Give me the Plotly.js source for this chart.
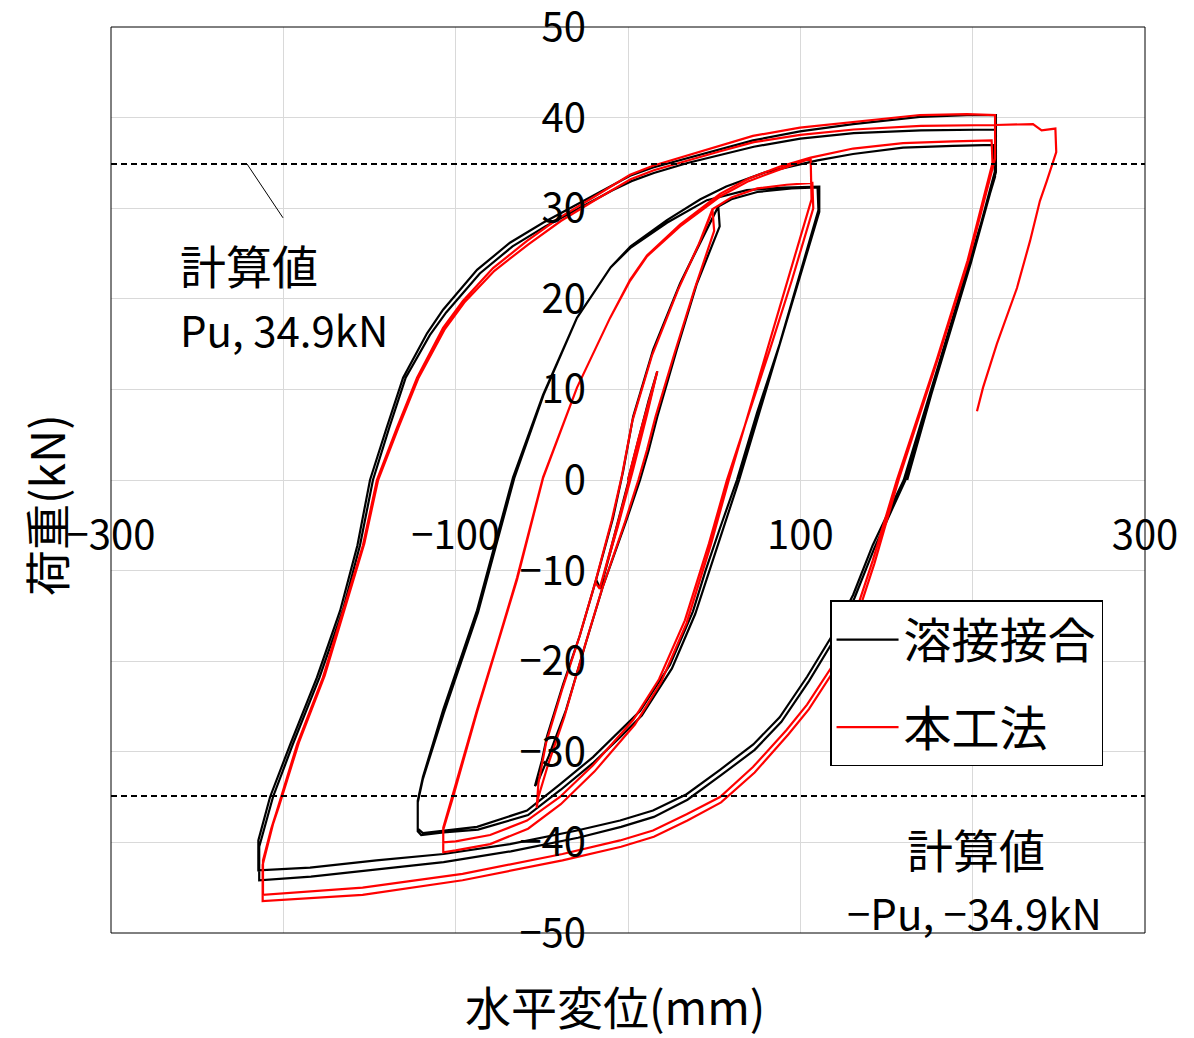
<!DOCTYPE html>
<html>
<head>
<meta charset="utf-8">
<script src="https://cdn.plot.ly/plotly-3.0.1.min.js"></script>
<style>html,body{margin:0;padding:0;background:#fff;}</style>
</head>
<body>
<div id="chart" style="width:1194px;height:1038px;"></div>
<script>
// ---------- tick labels ----------
const xTickVals = [-300, -100, 100, 300];
const yTickVals = [50, 40, 30, 20, 10, 0, -10, -20, -30, -40, -50];
const seriesNames = ['溶接接合', '本工法'];
const puValue = 34.9;

// ---------- 溶接接合 (black) ----------
const bSmallX = [0, 6, 12, 17, 11, 3, -6, -16, -10, -2, 6, 17, 10, 2, -7, -16];
const bSmallY = [0, 4.5, 8.8, 12, 7.5, 1.5, -5, -12, -7.5, -1.8, 4, 12, 7, 1, -5.5, -12];
const bUp50X = [-54, -50, -47, -37.7, -28, -18.5, -8.7, -2.8, 3, 14.6, 30.2, 42, 49.5, 52.4];
const bUp50Y = [-33.8, -31, -28.3, -22.6, -17.2, -11, -4.2, 1, 7, 14.4, 21.7, 26.3, 29.1, 30.2];
const bDn50X = [52.4, 53.2, 40, 28.3, 17, 12, 7, -1, -14.3, -24.5, -36, -46, -52.5, -54];
const bDn50Y = [30.2, 28, 21.7, 14.4, 7, 3.3, 0, -4.5, -11.6, -18, -25.4, -30.5, -33.4, -33.8];
const bUp100aX = [52.4, 60, 75, 95, 110, 110.5];
const bUp100aY = [30.2, 31, 31.8, 32.2, 32.3, 29.8];
const bDn100aX = [110.5, 100, 88, 75, 63.2, 53.4, 45, 37.7, 24.4, 7, -4.6, -20.3, -39.5, -58.6, -87.6, -107.3, -119, -122];
const bDn100aY = [29.8, 23, 15, 7.5, 0, -5.3, -10, -14.5, -20.4, -25.5, -27.7, -30.6, -33.6, -36.5, -38.3, -38.7, -39, -38.5];
const bUp100bX = [-122, -122, -119, -107.3, -87.6, -66.7, -49.3, -29.6, -10.4, 1.2, 22.6, 45.8, 69, 90, 111, 111];
const bUp100bY = [-38.5, -35.4, -32.8, -25.4, -14.4, 0.3, 9.4, 17.9, 23.4, 25.6, 28.4, 30.9, 32, 32.3, 32.4, 29.6];
const bDn100bX = [111, 64.5, 55, 39, 25.5, 8, -4, -20, -39, -58, -87, -107, -120, -122];
const bDn100bY = [29.6, 0, -5.5, -14.8, -20.8, -26, -28.3, -31.2, -34.2, -37, -38.6, -38.9, -39.2, -38.8];
const bUp200aX = [-122, -122, -119, -107, -87, -66, -49, -29.6, -10, 1.5, 22.6, 42, 57, 80, 110, 130.6, 159.6, 188.6, 212, 213];
const bUp200aY = [-38.8, -35.6, -33, -25.8, -14.6, 0.2, 9.4, 17.9, 23.5, 25.8, 28.7, 31, 32.4, 34, 35.3, 36, 36.7, 36.9, 37, 33.5];
const bDn200aX = [213, 198.5, 181, 160, 142, 130.6, 119, 104, 88, 72.7, 53.4, 34, 14.5, -4.6, -29.6, -68.5, -107, -146, -184.5, -214.5];
const bDn200aY = [33.5, 24.2, 13.2, 0, -7.2, -12.7, -17, -21.7, -26.2, -29.2, -32, -34.7, -36.5, -37.6, -38.7, -40.2, -41.3, -42, -42.8, -43.1];
const bUp200bX = [-214.5, -214.5, -207.7, -196, -180.5, -167, -157, -149.7, -140, -130.5, -116.6, -107.3, -87.6, -68.5, -49.3, -29.6, -10, 1.2, 14.5, 34.2, 53.4, 72.5, 99.8, 130.6, 169.4, 196.7, 213.5, 213.5];
const bUp200bY = [-43.1, -39.8, -35, -29.2, -21.8, -14.4, -7.2, 0, 5.8, 11.3, 16.2, 18.8, 23.2, 26.2, 28.4, 30.4, 32.4, 33.6, 34.5, 35.5, 36.5, 37.5, 38.5, 39.3, 40.1, 40.3, 40.3, 34];
const bDn200bX = [213.5, 199, 181.5, 161, 143, 131.5, 120, 105, 89, 73.5, 54, 34.5, 15, -4, -29, -68, -107, -146, -184, -214];
const bDn200bY = [34, 24, 13, 0, -7.5, -13, -17.5, -22.2, -26.7, -29.8, -32.6, -35.3, -37.2, -38.3, -39.5, -41, -42.2, -43, -43.8, -44.2];
const bUp200cX = [-214, -214, -206, -194.5, -179, -165.5, -155.5, -148, -138.5, -129, -115, -105.5, -86, -67, -48, -28.5, -9, 2, 15, 34.5, 54, 73, 100, 131, 170, 213, 213.5];
const bUp200cY = [-44.2, -40.5, -35, -29.2, -21.8, -14.4, -7.2, 0, 5.8, 11.3, 16, 18.5, 22.8, 25.8, 28, 30, 32, 33, 33.9, 35, 35.9, 36.8, 37.7, 38.3, 38.6, 38.7, 34.5];
const bEndX = [213.5, 199.5, 182, 162];
const bEndY = [34.5, 24.5, 13.5, 0];

// ---------- 本工法 (red) ----------
const rSmallX = [0, 6, 12, 17, 11, 3, -6, -16.5, -10, -2, 5, 17, 10, 2, -7, -16.5];
const rSmallY = [0, 4.5, 8.6, 12, 7.2, 1.2, -5.2, -12, -7.6, -2, 3.3, 12, 7, 1, -5.8, -12];
const rUp50X = [-53, -52, -47.5, -38, -28.5, -19, -9.5, -3.5, 2.5, 14, 29, 41, 47.5, 49];
const rUp50Y = [-36.2, -33.5, -29, -23, -17.5, -11.3, -4.5, 0.5, 6.5, 13.8, 21, 26, 29, 29.9];
const rDn50X = [49, 50, 38.5, 27, 16, 11, 6, -2, -15, -25.5, -37, -46.5, -52, -53];
const rDn50Y = [29.9, 27.5, 21, 14, 7, 3.3, 0, -4.8, -12, -18.6, -26.2, -31.5, -35, -36.2];
const rUp100aX = [49, 60, 75, 92, 107, 107.5];
const rUp100aY = [29.9, 31.2, 32.2, 32.6, 32.8, 30];
const rDn100aX = [107.5, 95, 82, 70, 57.4, 47, 33, 18, 3, -20.3, -39.5, -58.6, -80, -100, -107.2];
const rDn100aY = [30, 22, 14.2, 7.3, 0, -7, -15.5, -22, -26.5, -31.5, -35, -37.6, -39.2, -39.9, -40];
const rUp100bX = [-107.2, -107.2, -101.5, -87.6, -76, -64.4, -49.3, -29.6, -10.4, 1.2, 11, 30.2, 53.4, 70, 88.2, 106, 106.5];
const rUp100bY = [-40, -38.4, -34.7, -25.4, -18.2, -10.8, 0.3, 10.2, 17.9, 22, 24.7, 28, 31.3, 33, 34.3, 35.5, 31];
const rDn100bX = [106.5, 58.5, 48, 34, 19, 4, -19.5, -39, -58, -80, -100, -107.2];
const rDn100bY = [31, 0, -7.2, -15.8, -22.4, -27, -32.2, -35.8, -38.5, -40.2, -40.9, -41.1];
const rUp200aX = [-107.2, -107.2, -101.5, -87.6, -76, -64.4, -49.3, -29.6, -10.4, 1.2, 11, 30.2, 53.4, 70, 88.2, 106, 130.6, 159.6, 188.6, 211, 211.5];
const rUp200aY = [-41.1, -38.6, -35, -25.6, -18.4, -11, 0.2, 10.2, 17.9, 22.1, 24.8, 28.2, 31.6, 33.3, 34.6, 35.6, 36.6, 37.2, 37.4, 37.5, 35];
const rDn200aX = [211.5, 197, 179, 156, 142, 130.6, 119, 103.9, 92, 72.5, 53.4, 34, 14.5, -4.6, -38, -96, -154, -211.8];
const rDn200aY = [35, 24.2, 13.2, 0, -8.9, -15.5, -20.4, -24.8, -27.6, -31.7, -35, -36.9, -38.7, -39.8, -41.3, -43.5, -45, -45.8];
const rUp200bX = [-211.8, -211.8, -207, -203.7, -192, -177, -165.4, -153.8, -145.7, -134, -122.4, -107.3, -95.7, -78.3, -58.6, -39.5, -20.3, 1.2, 14.5, 34.2, 53.4, 72.5, 99.8, 130.6, 169.4, 196.7, 213, 213];
const rUp200bY = [-45.8, -42, -38.5, -36.5, -29.2, -21.8, -14.4, -7.2, 0, 5.8, 11.3, 16.8, 19.8, 23.4, 26.4, 29, 31.2, 33.7, 34.7, 35.8, 36.9, 38, 38.9, 39.5, 40.3, 40.4, 40.3, 35.5];
const rDn200bX = [213, 198, 180, 157, 143, 131.5, 120, 105, 93, 73.5, 54, 34.5, 15, -4, -38, -96, -154, -212];
const rDn200bY = [35.5, 24.5, 13.5, 0, -9.2, -15.9, -20.9, -25.3, -28.1, -32.3, -35.6, -37.6, -39.4, -40.5, -42, -44.2, -45.8, -46.5];
const rUp200cX = [-212, -212, -206, -202.5, -191, -176, -164.5, -153, -145, -133, -121.5, -106.5, -95, -77.5, -58, -39, -20, 1.5, 15, 34.5, 53.5, 73, 100, 131, 170, 213, 235, 240, 248, 248.5];
const rUp200cY = [-46.5, -42.5, -38, -36, -29, -21.6, -14.2, -7, 0, 5.9, 11.3, 16.6, 19.6, 23.1, 26, 28.6, 30.8, 33.2, 34.2, 35.3, 36.3, 37.3, 38.1, 38.7, 39.1, 39.2, 39.3, 38.6, 38.8, 36.2];
const rEndX = [248.5, 247, 243, 239, 233.3, 225.7, 214, 206, 202.5];
const rEndY = [36.2, 35.3, 33, 30.8, 26.4, 21.2, 15, 10.2, 7.6];

// ---------- build the two paths from the branches ----------
function chain(parts) {
  const x = [], y = [];
  parts.forEach(p => { x.push(...p[0]); y.push(...p[1]); });
  return {x, y};
}
const black = chain([
  [bSmallX, bSmallY],
  [bUp50X.slice(5), bUp50Y.slice(5)],
  [bDn50X, bDn50Y], [bUp50X, bUp50Y],
  [bDn50X, bDn50Y], [bUp50X, bUp50Y],
  [bUp100aX, bUp100aY], [bDn100aX, bDn100aY],
  [bUp100bX, bUp100bY], [bDn100bX, bDn100bY],
  [bUp200aX, bUp200aY], [bDn200aX, bDn200aY],
  [bUp200bX, bUp200bY], [bDn200bX, bDn200bY],
  [bUp200cX, bUp200cY], [bEndX, bEndY]
]);
const red = chain([
  [rSmallX, rSmallY],
  [rUp50X.slice(5), rUp50Y.slice(5)],
  [rDn50X, rDn50Y], [rUp50X, rUp50Y],
  [rDn50X, rDn50Y], [rUp50X, rUp50Y],
  [rUp100aX, rUp100aY], [rDn100aX, rDn100aY],
  [rUp100bX, rUp100bY], [rDn100bX, rDn100bY],
  [rUp200aX, rUp200aY], [rDn200aX, rDn200aY],
  [rUp200bX, rUp200bY], [rDn200bX, rDn200bY],
  [rUp200cX, rUp200cY], [rEndX, rEndY]
]);

const FONT = '"Noto Sans CJK JP", "Noto Sans", sans-serif';
const GRID = '#d9d9d9';

const traces = [
  {x: black.x, y: black.y, type: 'scatter', mode: 'lines', name: seriesNames[0],
   legendgroup: 'a', line: {color: '#000000', width: 2.2}},
  {x: red.x, y: red.y, type: 'scatter', mode: 'lines', name: seriesNames[1],
   legendgroup: 'b', line: {color: '#ff0000', width: 2.2}}
];

const layout = {
  width: 1194, height: 1038,
  margin: {l: 111, r: 49, t: 27, b: 105},
  paper_bgcolor: '#ffffff', plot_bgcolor: '#ffffff',
  font: {family: FONT, color: '#000', size: 40},
  showlegend: true,
  legend: {x: 0.6954, y: 0.367, xanchor: 'left', yanchor: 'top',
           bgcolor: '#ffffff', bordercolor: '#000', borderwidth: 1.5,
           font: {family: FONT, size: 48, color: '#000'},
           itemwidth: 62,
           traceorder: 'grouped', tracegroupgap: 22},
  xaxis: {range: [-300, 300], anchor: 'free', position: 0.5,
          tickmode: 'array', tickvals: xTickVals,
          ticks: 'outside', ticklen: 20, tickcolor: 'rgba(0,0,0,0)',
          tickfont: {family: FONT, size: 40, color: '#000'},
          showgrid: true, gridcolor: GRID, gridwidth: 1,
          minor: {dtick: 100, tick0: 0, showgrid: true, gridcolor: GRID, gridwidth: 1, ticks: ''},
          zeroline: false, showline: false, fixedrange: true, ticklabeloverflow: 'allow'},
  yaxis: {range: [-50.02, 50.02], anchor: 'free', position: 0.5,
          tickmode: 'array', tickvals: yTickVals,
          ticks: 'outside', ticklen: 34, tickcolor: 'rgba(0,0,0,0)',
          tickfont: {family: FONT, size: 40, color: '#000'},
          showgrid: true, gridcolor: GRID, gridwidth: 1,
          zeroline: false, showline: false, fixedrange: true, ticklabeloverflow: 'allow'},
  shapes: [
    {type: 'rect', xref: 'paper', yref: 'paper', x0: 0, x1: 1, y0: 0, y1: 1,
     line: {color: '#000', width: 1}, layer: 'above'},
    {type: 'line', xref: 'paper', yref: 'y', x0: 0, x1: 1, y0: puValue, y1: puValue,
     line: {color: '#000', width: 2, dash: '6px,4px'}},
    {type: 'line', xref: 'paper', yref: 'y', x0: 0, x1: 1, y0: -puValue, y1: -puValue,
     line: {color: '#000', width: 2, dash: '6px,4px'}},
    {type: 'line', xref: 'x', yref: 'y', x0: -221.1, y0: puValue, x1: -200.2, y1: 28.95,
     line: {color: '#000', width: 1}}
  ],
  annotations: [
    {text: '計算値', x: -261, y: 23.8, xref: 'x', yref: 'y', xanchor: 'left', yanchor: 'middle',
     showarrow: false, font: {family: FONT, size: 46, color: '#000'}},
    {text: 'Pu, ' + puValue + 'kN', x: -261, y: 16.7, xref: 'x', yref: 'y', xanchor: 'left', yanchor: 'middle',
     showarrow: false, font: {family: FONT, size: 42, color: '#000'}},
    {text: '計算値', x: 201.9, y: -40.6, xref: 'x', yref: 'y', xanchor: 'center', yanchor: 'middle',
     showarrow: false, font: {family: FONT, size: 46, color: '#000'}},
    {text: '\u2212Pu, \u2212' + puValue + 'kN', x: 200.8, y: -47.7, xref: 'x', yref: 'y', xanchor: 'center', yanchor: 'middle',
     showarrow: false, font: {family: FONT, size: 42, color: '#000'}},
    {text: '水平変位(mm)', x: 0.487, y: -0.0795, xref: 'paper', yref: 'paper', xanchor: 'center', yanchor: 'middle',
     showarrow: false, font: {family: FONT, size: 46, color: '#000'}},
    {text: '荷重(kN)', x: -0.0638, y: 0.4724, xref: 'paper', yref: 'paper', xanchor: 'center', yanchor: 'middle',
     textangle: -90, showarrow: false, font: {family: FONT, size: 46, color: '#000'}}
  ]
};

Plotly.newPlot('chart', traces, layout, {displayModeBar: false, staticPlot: true});
</script>
</body>
</html>
